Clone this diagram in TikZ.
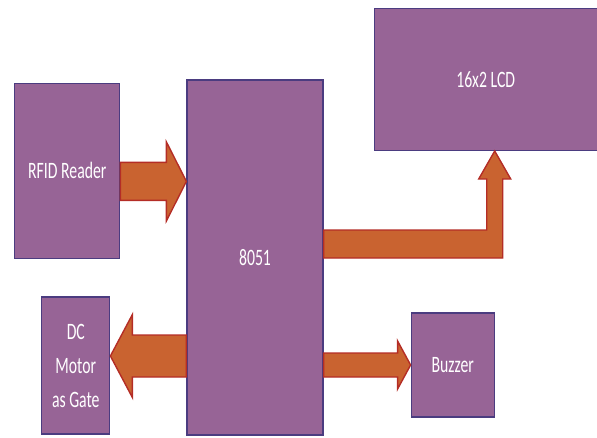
\documentclass[tikz,border=0pt]{standalone}
\usepackage{fontspec}
\setmainfont[FakeStretch=0.67]{Carlito}
\usepackage{tikz}
\usetikzlibrary{positioning,calc}
\definecolor{blkfill}{RGB}{151,100,150}
\definecolor{blkline}{RGB}{75,60,128}
\definecolor{arrfill}{RGB}{201,99,48}
\definecolor{arrline}{RGB}{180,45,38}

\begin{document}
\begin{tikzpicture}[x=1pt, y=-1pt,
  font=\fontsize{23.5}{34}\selectfont,
  blk/.style={draw=blkline, fill=blkfill, line width=1.2pt, text=white, align=center, inner sep=0pt},
  fat/.style={draw=arrline, fill=arrfill, line width=1.4pt, line join=miter}]
\useasboundingbox (0,0) rectangle (597,437);
% blocks
\node[blk, minimum width=136pt, minimum height=355pt] (mcu) at (255,257.5) {8051};
\node[blk, minimum width=105pt, minimum height=175pt, left=66pt of mcu.north west, yshift=-91.5pt] (rfid) {RFID Reader};
\node[blk, minimum width=223pt, minimum height=142pt, right=50pt of mcu.north east] (lcd) {16x2 LCD};
\node[blk, minimum width=68pt, minimum height=137pt, left=76pt of mcu, yshift=-108pt] (motor) {DC\\Motor\\as Gate};
\node[blk, minimum width=83pt, minimum height=104pt, right=87pt of mcu, yshift=-107.5pt] (buzzer) {Buzzer};
% rfid -> 8051
\coordinate (a1) at ([yshift=-10.5pt]rfid.east);
\coordinate (a1t) at (a1 -| mcu.west);
\draw[fat] ($(a1)+(0,-19)$) -- ($(a1t)+(-20,-19)$) -- ($(a1t)+(-20,-39.5)$) -- (a1t)
  -- ($(a1t)+(-20,39.5)$) -- ($(a1t)+(-20,19)$) -- ($(a1)+(0,19)$) -- cycle;
% 8051 -> motor
\coordinate (a2t) at ([yshift=9.5pt]motor.east);
\coordinate (a2) at (a2t -| mcu.west);
\draw[fat] ($(a2)+(0,-21)$) -- ($(a2t)+(22,-21)$) -- ($(a2t)+(22,-41.5)$) -- (a2t)
  -- ($(a2t)+(22,41.5)$) -- ($(a2t)+(22,21)$) -- ($(a2)+(0,21)$) -- cycle;
% 8051 -> buzzer
\coordinate (a3t) at (buzzer.west);
\coordinate (a3) at (a3t -| mcu.east);
\draw[fat] ($(a3)+(0,-12)$) -- ($(a3t)+(-13,-12)$) -- ($(a3t)+(-13,-24)$) -- (a3t)
  -- ($(a3t)+(-13,24)$) -- ($(a3t)+(-13,12)$) -- ($(a3)+(0,12)$) -- cycle;
% 8051 -> lcd
\coordinate (a4) at ([yshift=13.5pt]mcu.east);
\coordinate (a4t) at ([xshift=9pt]lcd.south);
\coordinate (a4c) at (a4 -| a4t);
\draw[fat] ($(a4)+(0,-14)$) -- ($(a4c)+(-8,-14)$) -- ($(a4t)+(-8,28)$) -- ($(a4t)+(-16,28)$) -- (a4t)
  -- ($(a4t)+(16,28)$) -- ($(a4t)+(8,28)$) -- ($(a4c)+(8,14)$) -- ($(a4)+(0,14)$) -- cycle;
\end{tikzpicture}
\end{document}
